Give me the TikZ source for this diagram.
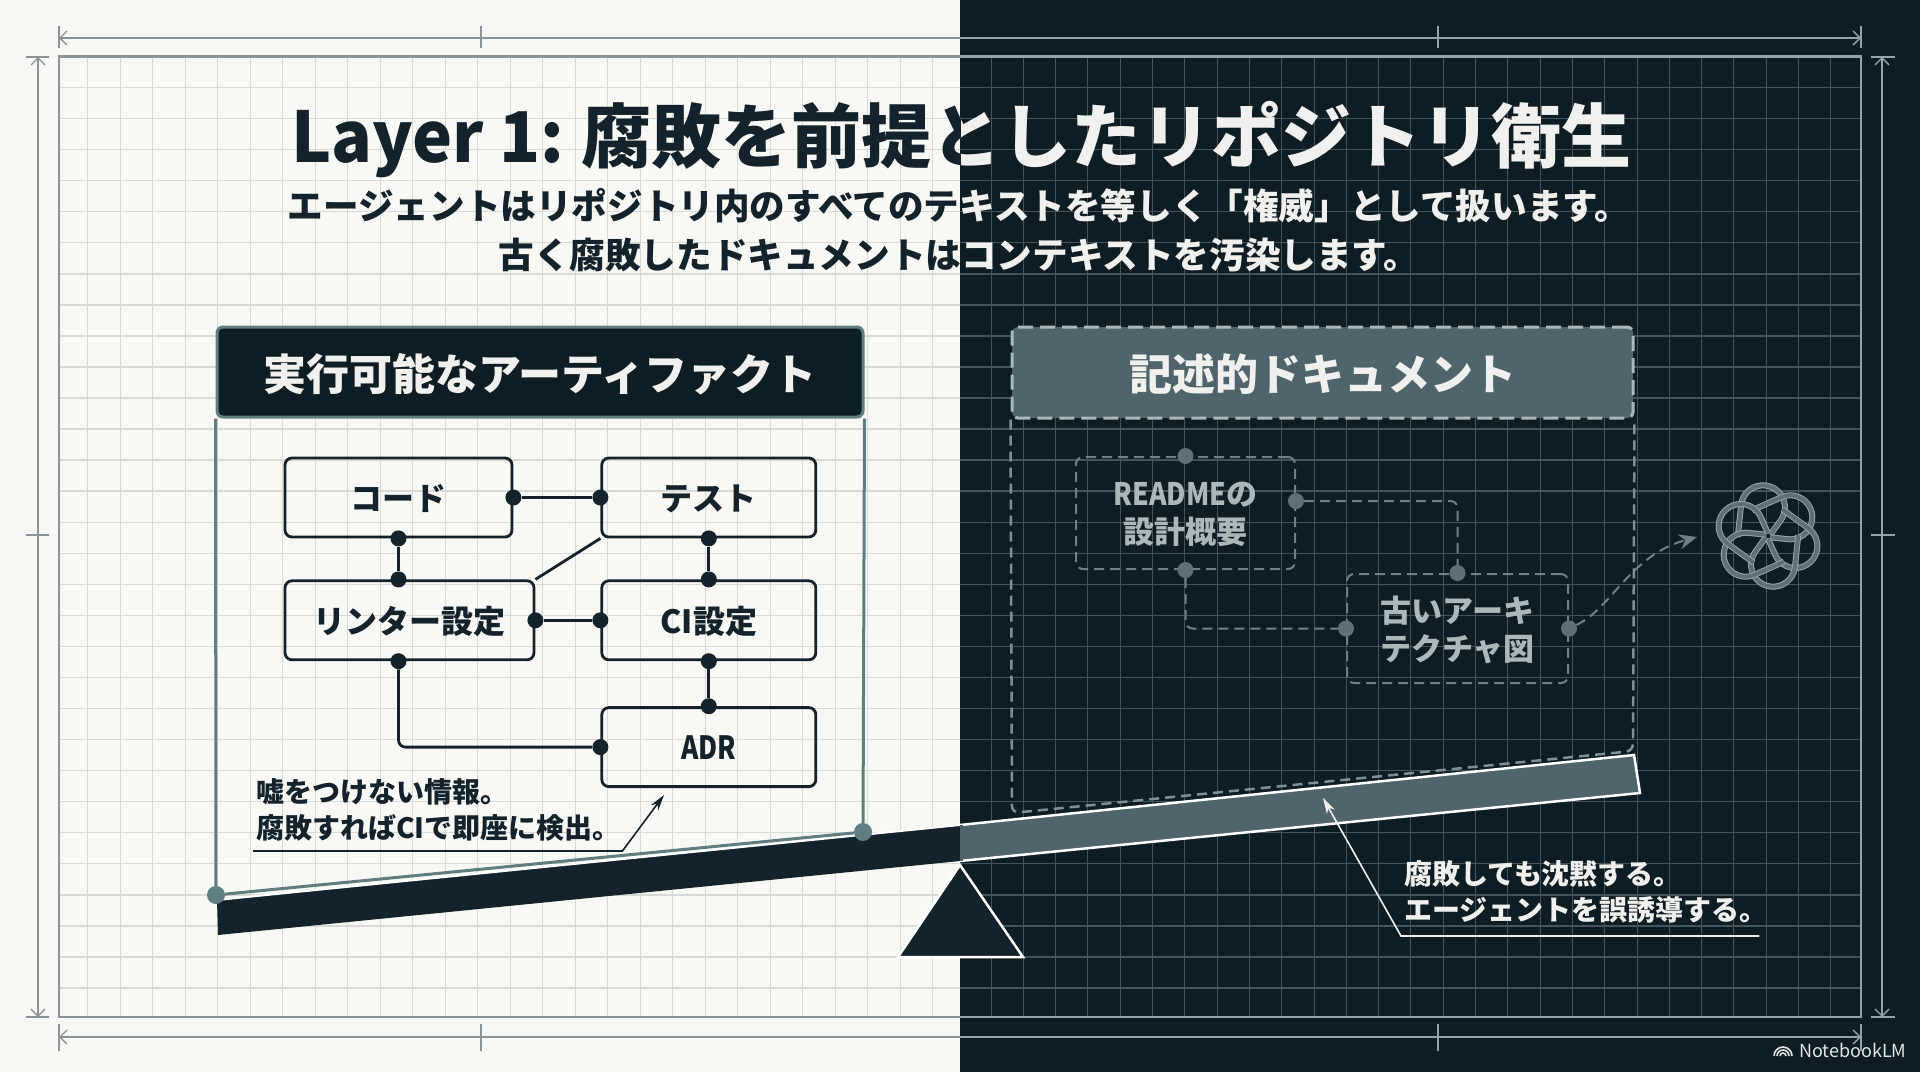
\documentclass[tikz,border=0pt]{standalone}
\usepackage{fontspec}
\setmainfont{Noto Sans CJK JP}
\usepackage{xcolor}
\definecolor{paperLight}{HTML}{F8F8F4}
\definecolor{nightDark}{HTML}{0E1C24}
\definecolor{inkDark}{HTML}{13222B}
\definecolor{gridPaper}{HTML}{D8DBD5}
\definecolor{gridNight}{HTML}{435359}
\definecolor{dimPaper}{HTML}{8B9496}
\definecolor{dimNight}{HTML}{93A3A9}
\definecolor{accentTeal}{HTML}{5F7E80}
\definecolor{slateFill}{HTML}{4F656B}
\definecolor{fadedLine}{HTML}{6E8086}
\definecolor{fadedDot}{HTML}{5C7076}
\definecolor{fadedText}{HTML}{ABB7B8}
\definecolor{softWhite}{HTML}{F0F1EE}
\usepackage{tikz}
\usetikzlibrary{
    arrows.meta,
    positioning,
    calc
}
\newcommand{\fsize}[1]{\fontsize{#1}{#1}\selectfont}
\newcommand{\squeeze}[2]{{\addfontfeature{FakeStretch=#1}#2}}
\newcommand{\titlehead}{\squeeze{0.964}{Layer 1:}{\fsize{55} }腐敗を前提}
\newlength{\titlelead}
\tikzset{
    % Background lines
    grid paper/.style={draw=gridPaper, line width=1pt},
    grid night/.style={draw=gridNight, line width=1pt},
    frame paper/.style={draw=dimPaper, line width=2.5pt},
    frame night/.style={draw=dimNight, line width=2.5pt},
    dim paper/.style={draw=dimPaper, line width=1.3pt},
    dim night/.style={draw=dimNight, line width=1.3pt},
    % Panel headers
    solid head/.style={
        rectangle,
        rounded corners=6pt,
        draw=accentTeal,
        line width=3pt,
        fill=nightDark,
        text=softWhite,
        text depth=0pt,
        font=\bfseries\fsize{43},
        minimum width=646pt,
        minimum height=90pt,
    },
    faded head/.style={
        rectangle,
        rounded corners=6pt,
        draw=fadedText,
        dash pattern=on 15pt off 7pt,
        line width=3pt,
        fill=slateFill,
        text=softWhite,
        text depth=0pt,
        font=\bfseries\fsize{43},
        minimum width=621pt,
        minimum height=91pt,
    },
    % Boxes inside the panels
    artifact box/.style={
        rectangle,
        rounded corners=7pt,
        draw=inkDark,
        line width=2.8pt,
        text=inkDark,
        text depth=0pt,
        font=\bfseries\fsize{32},
        align=center,
        minimum width=214pt,
        minimum height=79pt,
    },
    faded box/.style={
        rectangle,
        rounded corners=7pt,
        draw=fadedLine,
        dash pattern=on 10pt off 6pt,
        line width=2pt,
        text=fadedText,
        text depth=0pt,
        font=\bfseries\fontsize{31}{38}\selectfont,
        align=center,
        inner sep=0pt,
    },
    % Connection dots and wires
    ink dot/.style={circle, fill=inkDark, inner sep=0pt, minimum size=16pt},
    faded dot/.style={circle, fill=fadedDot, inner sep=0pt, minimum size=16pt},
    teal dot/.style={circle, fill=accentTeal, inner sep=0pt, minimum size=18pt},
    wire/.style={draw=inkDark, line width=2.8pt, rounded corners=7pt},
    faded wire/.style={draw=fadedLine, dash pattern=on 10pt off 6pt, line width=2pt, rounded corners=7pt},
    % Callouts
    note text/.style={
        font=\bfseries\fontsize{28}{36}\selectfont,
        align=left,
        inner xsep=3pt,
        anchor=south west,
    },
    note line/.style={line width=1.6pt, -{Stealth[length=16pt, width=9pt]}},
}

\begin{document}
\settowidth{\titlelead}{\bfseries\fsize{70}\titlehead}
\begin{tikzpicture}[x=1pt, y=-1pt]
    \useasboundingbox (0,0) rectangle (1920,1072);
    \fill [paperLight] (0,0) rectangle (960,1072);
    \fill [nightDark] (960,0) rectangle (1920,1072);

    % grid
    \foreach \gx in {87.5,120,...,950} \draw [grid paper] (\gx,57) -- (\gx,1017);
    \foreach \gx in {991,1023.3,...,1860} \draw [grid night] (\gx,57) -- (\gx,1017);
    \foreach \gy in {87.5,118.55,...,1010} {
        \draw [grid paper, line width=1.4pt] (59,\gy) -- (960,\gy);
        \draw [grid night, line width=1.4pt] (960,\gy) -- (1861,\gy);
    }

    % frame and dimension lines
    \draw [frame paper] (960,56.5) -- (59,56.5) -- (59,1017) -- (960,1017);
    \draw [frame night] (960,56.5) -- (1861,56.5) -- (1861,1017) -- (960,1017);
    \draw [dim paper, {Straight Barb[length=7pt]}-] (59,38) -- (960,38);
    \draw [dim night, -{Straight Barb[length=7pt]}] (960,38) -- (1861,38);
    \draw [dim paper, {Straight Barb[length=7pt]}-] (59,1037) -- (960,1037);
    \draw [dim night, -{Straight Barb[length=7pt]}] (960,1037) -- (1861,1037);
    \draw [dim paper, {Straight Barb[length=7pt]}-{Straight Barb[length=7pt]}] (38,57) -- (38,1017);
    \draw [dim night, {Straight Barb[length=7pt]}-{Straight Barb[length=7pt]}] (1882,57) -- (1882,1017);
    \foreach \tx in {59,481} {
        \draw [dim paper] (\tx,26) -- (\tx,48);
        \draw [dim paper] (\tx,1024) -- (\tx,1051);
    }
    \foreach \tx in {1438,1861} {
        \draw [dim night] (\tx,26) -- (\tx,48);
        \draw [dim night] (\tx,1024) -- (\tx,1051);
    }
    \foreach \ty in {57,535,1017} {
        \draw [dim paper] (26,\ty) -- (49,\ty);
        \draw [dim night] (1871,\ty) -- (1895,\ty);
    }

    % title
    \node (title) [anchor=base west, inner sep=0pt, text=softWhite, font=\bfseries\fsize{70}] at (291,162)
        {\textcolor{inkDark}{\titlehead}としたリポジトリ衛生};
    \begin{scope}
        \clip (0,0) rectangle (960,1072);
        \node (titleTo) [anchor=base west, inner sep=0pt, text=inkDark, font=\bfseries\fsize{70}] at ($(title.base west)+(\titlelead,0)$) {と};
    \end{scope}
    \node (lead) [align=center, text=softWhite, font=\bfseries\fontsize{35.6}{49}\selectfont] at (959,230)
        {\textcolor{inkDark}{エージェントはリポジトリ内のすべてのテ}キストを等しく「権威」として扱います。\\
         \textcolor{inkDark}{古く腐敗したドキュメントは}コンテキストを汚染します。};

    % artifact panel
    \node (artHead) [solid head] at (540,372) {実行可能なアーティファクト};
    \node (code) [artifact box, minimum width=227pt] at (398.5,497.5) {コード};
    \node (test) [artifact box, right=87pt of code] {テスト};
    \node (linter) [artifact box, minimum width=249pt, below=41pt of code.south west, anchor=north west] {リンター設定};
    \node (ci) [artifact box, below=41pt of test] {CI設定};
    \node (adr) [artifact box, below=45pt of ci] {\squeeze{0.82}{ADR}};

    \node (codeE) [ink dot] at (code.east) {};
    \node (codeS) [ink dot] at (code.south) {};
    \node (testW) [ink dot] at (test.west) {};
    \node (testS) [ink dot] at (test.south) {};
    \node (linterN) [ink dot] at (code.south |- linter.north) {};
    \node (linterE) [ink dot] at (linter.east) {};
    \node (linterS) [ink dot] at (code.south |- linter.south) {};
    \node (ciN) [ink dot] at (ci.north) {};
    \node (ciW) [ink dot] at (ci.west) {};
    \node (ciS) [ink dot] at (ci.south) {};
    \node (adrN) [ink dot] at (adr.north) {};
    \node (adrW) [ink dot] at (adr.west) {};

    \draw [wire] (codeE) -- (testW);
    \draw [wire] (codeS) -- (linterN);
    \draw [wire] (testS) -- (ciN);
    \draw [wire] (linterE) -- (ciW);
    \draw [wire] (ciS) -- (adrN);
    \draw [wire] (linter.north east) -- (test.south west);
    \draw [wire] (linterS) |- (adrW);

    % document panel
    \node (docHead) [faded head] at (1322.5,372.5) {記述的ドキュメント};
    \node (readme) [faded box, minimum width=219pt, minimum height=112pt] at (1185.5,513) {\squeeze{0.86}{README}の\\設計概要};
    \node (old) [faded box, minimum width=221pt, minimum height=109pt] at (1457.5,628.5) {古いアーキ\\テクチャ図};

    \node (readmeN) [faded dot] at (readme.north) {};
    \node (readmeE) [faded dot] at ($(readme.east)+(0,-12)$) {};
    \node (readmeS) [faded dot] at (readme.south) {};
    \node (oldN) [faded dot] at (old.north) {};
    \node (oldW) [faded dot] at (old.west) {};
    \node (oldE) [faded dot] at (old.east) {};
    \coordinate (docTip) at (1697,537);
    \coordinate (docLeft) at (1012,813);
    \coordinate (docRight) at (1633,751);

    \draw [faded wire] (readmeE) -| (oldN);
    \draw [faded wire] (readmeS) |- (oldW);
    \draw [faded wire, -{Stealth[length=18pt, width=15pt]}] (oldE) .. controls (1612,608) and (1630,555) .. (docTip);
    \draw [faded wire, draw=dimNight!85!nightDark, line width=2.5pt] (docHead.south west) -- (docLeft) -- (docRight) -- (docHead.south east);

    % model logo
    \begin{scope}[shift={(1768,536)}, yscale=-1]
        \foreach \a in {6,66,...,306}
            \draw [rotate=\a, draw=dimNight, double=fadedDot, double distance=4pt, line width=1pt]
                (-30,-4) -- (-30,28) arc (180:-30:22) -- ++(-120:18);
    \end{scope}

    % seesaw
    \coordinate (beamTL) at (217,900);
    \coordinate (beamTM) at (960,825);
    \coordinate (beamTR) at (1634,755);
    \coordinate (beamBL) at (218,935);
    \coordinate (beamBM) at (960,861);
    \coordinate (beamBR) at (1640,793);
    \fill [inkDark] (beamTL) -- (beamTM) -- (beamBM) -- (beamBL) -- cycle;
    \draw [white, line width=2pt] (beamTL) -- (beamTM);
    \draw [white, line width=2.5pt, fill=slateFill] (beamTM) -- (beamTR) -- (beamBR) -- (beamBM);
    \fill [slateFill] (beamTM) -- ($(beamTM)+(3,0)$) -- ($(beamBM)+(3,0)$) -- (beamBM) -- cycle;
    \coordinate (pivot) at (960,865);
    \draw [white, line width=2.5pt, fill=inkDark] (pivot) -- (1023,957) -- (898,957) -- cycle;

    \node (artLeft) [teal dot] at (216,895) {};
    \node (artRight) [teal dot] at (863,832) {};
    \draw [accentTeal, line width=3pt] (artHead.south west) -- (artLeft) -- (artRight) -- (artHead.south east);

    % callouts
    \node (goodNote) [note text, inner ysep=9pt, text=inkDark, text width=363pt] at (253,851) {嘘をつけない情報。\\腐敗すればCIで即座に検出。};
    \coordinate (goodTip) at (664,795);
    \draw [note line, draw=inkDark] (goodNote.south west) -- (goodNote.south east) -- (goodTip);

    \node (badNote) [note text, inner ysep=13pt, text=softWhite, text width=352pt] at (1401,936) {腐敗しても沈黙する。\\エージェントを誤誘導する。};
    \coordinate (badTip) at (1323,798);
    \draw [note line, draw=softWhite] (badNote.south east) -- (badNote.south west) -- (badTip);

    % product mark
    \node (mark) [anchor=base west, inner sep=0pt, text=softWhite!85!dimNight, font=\fsize{18}] at (1799,1057) {NotebookLM};
    \foreach \r in {3,6,9}
        \draw [softWhite!85!dimNight, line width=1.6pt] (1783-\r,1056) arc (180:360:\r);
\end{tikzpicture}
\end{document}
